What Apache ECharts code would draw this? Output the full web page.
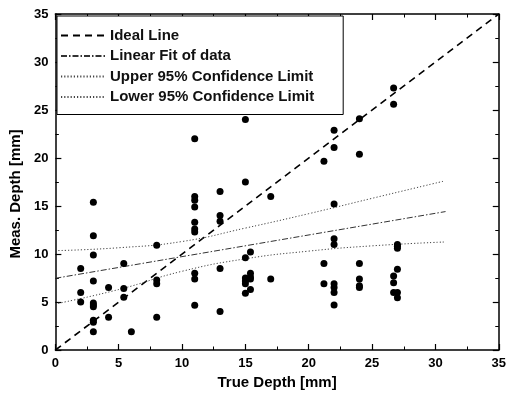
<!DOCTYPE html>
<html>
<head>
<meta charset="utf-8">
<script src="https://cdn.jsdelivr.net/npm/echarts@6/dist/echarts.min.js"></script>
<style>html,body{margin:0;padding:0;background:#fff}#c{width:509px;height:402px}</style>
</head>
<body>
<div id="c"></div>
<script>
// Measured points: [true depth, measured depth]
const measPoints = [
  [2, 8.5], [2, 6.0], [2, 5.0],
  [3, 15.4], [3, 11.9], [3, 9.9], [3, 7.2], [3, 4.9], [3, 4.7], [3, 4.5], [3, 3.1], [3, 2.9], [3, 1.9],
  [4.2, 6.5], [4.2, 3.4],
  [5.4, 9.0], [5.4, 6.4], [5.4, 5.5],
  [6, 1.9],
  [8, 10.9], [8, 7.3], [8, 6.9], [8, 3.4],
  [11, 22.0], [11, 16.0], [11, 15.6], [11, 14.9], [11, 13.3], [11, 12.6], [11, 12.3], [11, 8.0], [11, 7.4], [11, 4.65],
  [13, 16.5], [13, 14.0], [13, 13.4], [13, 8.5], [13, 4.0],
  [15, 24.0], [15, 17.5], [15, 9.6], [15, 7.5], [15, 7.2], [15, 6.9], [15, 5.9],
  [15.4, 10.2], [15.4, 8.0], [15.4, 7.6], [15.4, 7.4], [15.4, 6.3],
  [17, 16.0], [17, 7.4],
  [21.2, 19.65], [21.2, 9.0], [21.2, 6.9],
  [22, 22.9], [22, 21.1], [22, 15.2], [22, 11.6], [22, 11.0], [22, 6.9], [22, 6.5], [22, 6.0], [22, 4.7],
  [24, 24.1], [24, 20.4], [24, 9.0], [24, 7.4], [24, 6.7], [24, 6.5],
  [26.7, 27.3], [26.7, 25.6], [26.7, 7.7], [26.7, 7.0], [26.7, 6.0],
  [27, 11.0], [27, 10.8], [27, 10.6], [27, 8.4], [27, 6.0], [27, 5.45]
];
const idealLine = [[0, 0], [35, 35]];
const fitLine = [[0, 7.47], [30.8, 14.42]];
const upperLimit = [[0, 10.35], [5, 10.65], [10, 11.3], [15, 12.7], [20, 14.2], [25, 15.8], [30.7, 17.6]];
const lowerLimit = [[0, 4.8], [5, 6.3], [10, 8.2], [15, 9.5], [20, 10.3], [25, 10.85], [30.7, 11.25]];
const seriesNames = ['Ideal Line', 'Linear Fit of data', 'Upper 95% Confidence Limit', 'Lower 95% Confidence Limit'];
const axisNames = ['True Depth [mm]', 'Meas. Depth [mm]'];

const chart = echarts.init(document.getElementById('c'), null, {renderer: 'canvas'});
const FONT = '"Liberation Sans", Arial, sans-serif';
function axisBase(show) {
  return {
    type: 'value', min: 0, max: 35, interval: 5,
    axisLine: {show: true, onZero: false, lineStyle: {color: '#000', width: 1.5}},
    axisTick: {show: true, inside: true, length: 6, lineStyle: {color: '#000', width: 1.2}},
    minorTick: {show: true, splitNumber: 2, length: 3.5, lineStyle: {color: '#000', width: 1}},
    splitLine: {show: false},
    axisLabel: {show: show, color: '#000', fontFamily: FONT, fontWeight: 'bold', fontSize: 13}
  };
}
const xBottom = Object.assign(axisBase(true), {
  position: 'bottom', name: axisNames[0], nameLocation: 'middle', nameGap: 22,
  nameTextStyle: {color: '#000', fontFamily: FONT, fontWeight: 'bold', fontSize: 15}
});
xBottom.axisLabel.margin = 7;
const xTop = Object.assign(axisBase(false), {position: 'top'});
const yLeft = Object.assign(axisBase(true), {
  position: 'left', name: axisNames[1], nameLocation: 'middle', nameGap: 31,
  nameTextStyle: {color: '#000', fontFamily: FONT, fontWeight: 'bold', fontSize: 15, padding: [0, 0, 0, -24]}
});
yLeft.axisLabel.margin = 7;
const yRight = Object.assign(axisBase(false), {position: 'right'});

chart.setOption({
  animation: false,
  backgroundColor: '#fff',
  grid: {left: 54, right: 6, top: 14, bottom: 52},
  xAxis: [xBottom, xTop],
  yAxis: [yLeft, yRight],
  legend: {
    data: seriesNames,
    orient: 'vertical', left: 57, top: 16,
    padding: [12, 29, 10, 3],
    itemGap: 5.5, itemWidth: 44, itemHeight: 15,
    borderColor: '#000', borderWidth: 1, backgroundColor: '#fff',
    itemStyle: {opacity: 0},
    textStyle: {color: '#111', fontFamily: FONT, fontWeight: 'bold', fontSize: 15, lineHeight: 15}
  },
  series: [
    {name: seriesNames[0], type: 'line', data: idealLine, symbol: 'none', z: 3,
     itemStyle: {color: '#000'}, lineStyle: {color: '#000', width: 1.6, type: [7, 5]}},
    {name: seriesNames[1], type: 'line', data: fitLine, symbol: 'none', z: 3,
     itemStyle: {color: '#333'}, lineStyle: {color: '#333', width: 1, type: [6, 2, 1.5, 2]}},
    {name: seriesNames[2], type: 'line', data: upperLimit, symbol: 'none', smooth: true, z: 3,
     itemStyle: {color: '#444'}, lineStyle: {color: '#444', width: 1, type: [1.2, 2]}},
    {name: seriesNames[3], type: 'line', data: lowerLimit, symbol: 'none', smooth: true, z: 3,
     itemStyle: {color: '#444'}, lineStyle: {color: '#444', width: 1, type: [1.2, 2]}},
    {name: 'data', type: 'scatter', data: measPoints, symbol: 'circle', symbolSize: 7, z: 4,
     itemStyle: {color: '#000', opacity: 1}}
  ]
});
</script>
</body>
</html>
